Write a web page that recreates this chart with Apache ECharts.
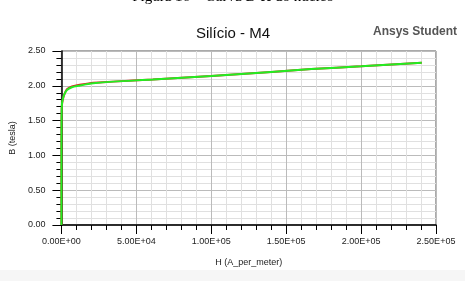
<!DOCTYPE html>
<html>
<head>
<meta charset="utf-8">
<script src="https://cdn.jsdelivr.net/npm/echarts@6/dist/echarts.min.js"></script>
<style>
html, body { margin: 0; padding: 0; background: #fff; }
#chart { width: 465px; height: 281px; }
</style>
</head>
<body>
<div id="chart"></div>
<script>
// curva B-H
const H_green = [0, 0, 100, 300, 800, 2000, 3700, 7000, 11400, 21300, 34500, 61000, 100000, 140000, 166800, 200000, 240500];
const B_green = [0, 1.0, 1.55, 1.72, 1.80, 1.88, 1.94, 1.98, 2.00, 2.035, 2.06, 2.09, 2.14, 2.20, 2.24, 2.28, 2.33];
const H_red = [0, 0, 100, 300, 800, 2000, 3700, 7000, 11400, 21300, 34500, 61000, 100000, 140000, 166800, 200000, 240500];
const B_red = [0, 1.0, 1.54, 1.71, 1.79, 1.88, 1.95, 1.99, 2.01, 2.045, 2.06, 2.09, 2.14, 2.20, 2.24, 2.28, 2.33];
const x_ticks = [0, 50000, 100000, 150000, 200000, 250000];
const y_ticks = [0, 0.5, 1.0, 1.5, 2.0, 2.5];

function pairs(xs, ys) {
	return xs.map((x, i) => [x, ys[i]]);
}

function fmtE(v) {
	var s = v.toExponential(2).toUpperCase();
	var m = s.split("E");
	var sign = m[1][0];
	var exp = m[1].slice(1);
	if (exp.length < 2) exp = "0" + exp;
	return m[0] + "E" + sign + exp;
}

const chart = echarts.init(document.getElementById("chart"));
chart.setOption({
	backgroundColor: "#fff",
	animation: false,
	title: [
		{
			text: "Figura 16 – Curva B-H do núcleo",
			left: 228, top: -15, textAlign: "center",
			textStyle: { fontFamily: "Liberation Serif", fontSize: 15, fontWeight: "normal", color: "#000" }
		},
		{
			text: "Silício - M4",
			left: 228, top: 21, textAlign: "center",
			textStyle: { fontFamily: "Liberation Sans", fontSize: 15, fontWeight: "normal", color: "#111" }
		},
		{
			text: "Ansys Student",
			left: 368, top: 21,
			textStyle: { fontFamily: "Liberation Sans", fontSize: 12, fontWeight: "bold", color: "#555" }
		}
	],
	graphic: [
		{ type: "rect", shape: { x: 0, y: 270, width: 465, height: 11 }, style: { fill: "#f6f6f6" }, z: -1 }
	],
	grid: { left: 58, right: 29, top: 51, bottom: 56, show: true, borderColor: "#555", borderWidth: 1 },
	xAxis: {
		type: "value",
		min: x_ticks[0], max: x_ticks[x_ticks.length - 1], interval: 50000,
		name: "H (A_per_meter)", nameLocation: "middle", nameGap: 33,
		nameTextStyle: { fontFamily: "Liberation Sans", fontSize: 9, color: "#222" },
		axisLine: { lineStyle: { color: "#000", width: 1.5 } },
		axisTick: { length: 9, lineStyle: { color: "#000" } },
		minorTick: { show: true, splitNumber: 5, length: 5, lineStyle: { color: "#000" } },
		splitLine: { lineStyle: { color: "#bbb" } },
		minorSplitLine: { show: true, lineStyle: { color: "#e0e0e0" } },
		axisLabel: { formatter: fmtE, fontFamily: "Liberation Sans", fontSize: 9, color: "#222", margin: 12 }
	},
	yAxis: {
		type: "value",
		min: y_ticks[0], max: y_ticks[y_ticks.length - 1], interval: 0.5,
		name: "B (tesla)", nameLocation: "middle", nameGap: 42,
		nameTextStyle: { fontFamily: "Liberation Sans", fontSize: 9, color: "#222" },
		axisLine: { show: true, lineStyle: { color: "#000", width: 1.5 } },
		axisTick: { show: true, length: 9, lineStyle: { color: "#000" } },
		minorTick: { show: true, splitNumber: 5, length: 5, lineStyle: { color: "#000" } },
		splitLine: { lineStyle: { color: "#bbb" } },
		minorSplitLine: { show: true, lineStyle: { color: "#e0e0e0" } },
		axisLabel: { formatter: v => v.toFixed(2), fontFamily: "Liberation Sans", fontSize: 9, color: "#222", margin: 16 }
	},
	series: [
		{
			type: "line", data: pairs(H_red, B_red), showSymbol: false, smooth: 0.3,
			lineStyle: { color: "#e02020", width: 2 }, z: 2
		},
		{
			type: "line", data: pairs(H_green, B_green), showSymbol: false, smooth: 0.3,
			lineStyle: { color: "#22ee22", width: 2 }, z: 3
		}
	]
});
</script>
</body>
</html>
